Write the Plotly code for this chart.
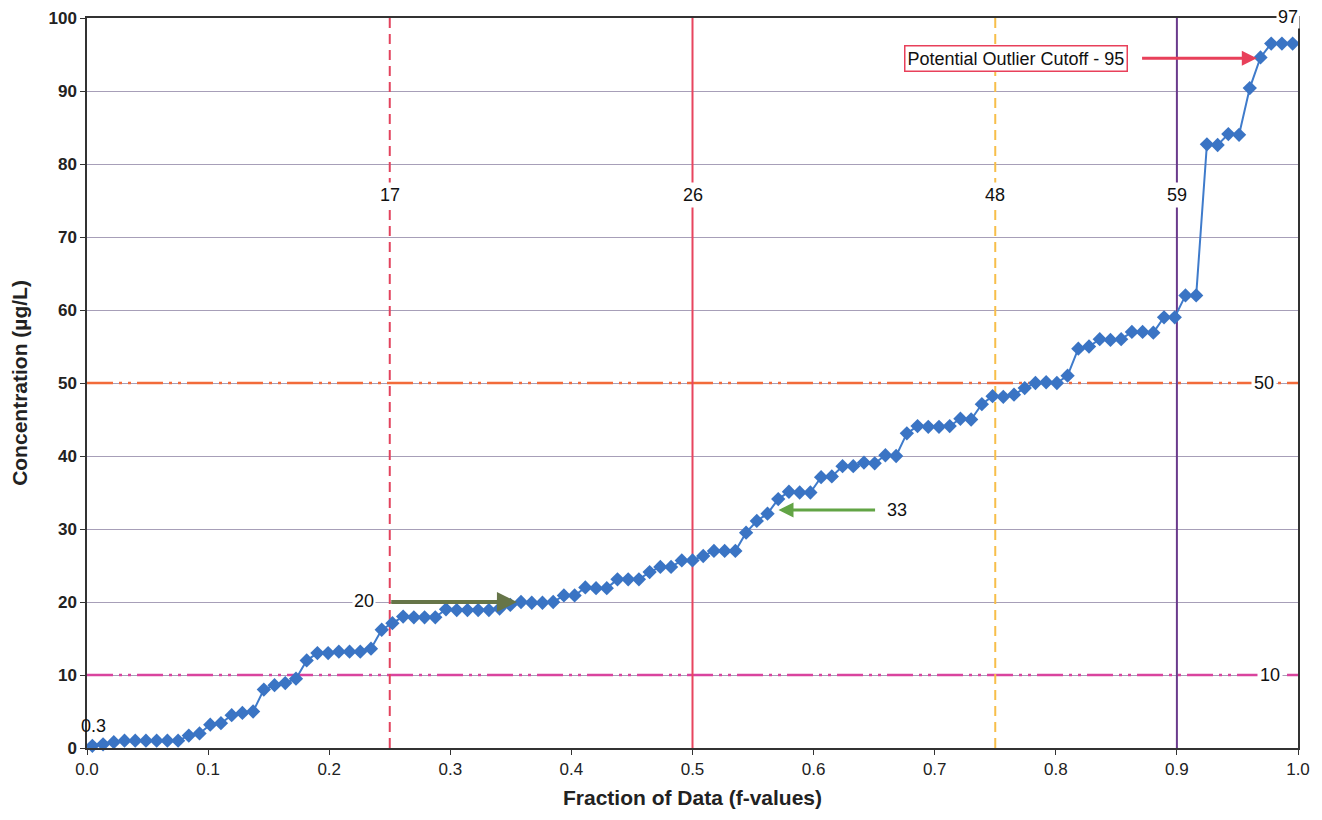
import plotly.graph_objects as go

# Sorted concentrations (µg/L)
conc = [0.3, 0.5, 0.8, 1.0, 1.0, 1.0, 1.0, 1.0, 1.0, 1.7,
        2.0, 3.2, 3.4, 4.5, 4.8, 5.0, 8.0, 8.6, 8.9, 9.5,
        12.0, 13.0, 13.0, 13.2, 13.2, 13.2, 13.6, 16.2, 17.1, 18.0,
        17.9, 17.9, 17.9, 19.0, 18.9, 18.9, 18.9, 18.9, 19.1, 19.6,
        20.0, 19.9, 19.9, 20.0, 20.9, 20.9, 22.0, 21.9, 21.9, 23.1,
        23.1, 23.1, 24.1, 24.8, 24.8, 25.7, 25.7, 26.3, 27.0, 27.0,
        27.0, 29.5, 31.1, 32.1, 34.1, 35.1, 35.0, 35.0, 37.1, 37.2,
        38.6, 38.6, 39.1, 39.0, 40.1, 40.0, 43.1, 44.1, 44.0, 44.0,
        44.1, 45.1, 45.0, 47.1, 48.2, 48.1, 48.4, 49.3, 50.0, 50.1,
        50.0, 51.0, 54.7, 55.0, 56.0, 55.9, 56.0, 57.0, 57.0, 56.9,
        59.0, 59.0, 62.0, 62.0, 82.7, 82.6, 84.1, 84.0, 90.4, 94.6,
        96.5, 96.5, 96.5]
# f-values: plotting position of each ranked value
n = len(conc)
fvals = [(i + 0.5) / n for i in range(n)]

quant_f = [0.25, 0.5, 0.75, 0.9]
quant_labels = ["17", "26", "48", "59"]
quant_colors = ["#E2435E", "#E8455F", "#F7BE4A", "#6A3A8C"]
quant_dash = ["dash", "solid", "dash", "solid"]

hlines = [50, 10]
hline_labels = ["50", "10"]
hline_colors = ["#F26B3A", "#D9449E"]

x_ticks = [0.0, 0.1, 0.2, 0.3, 0.4, 0.5, 0.6, 0.7, 0.8, 0.9, 1.0]
y_ticks = [0, 10, 20, 30, 40, 50, 60, 70, 80, 90, 100]

FONT = "Liberation Sans, Arial"
fig = go.Figure()

shapes = []
for v, c in zip(hlines, hline_colors):
    shapes.append(dict(type="line", xref="x", yref="y", x0=0, x1=1, y0=v, y1=v,
                       line=dict(color=c, width=2.5, dash="26px,6px,3px,6px,3px,6px"),
                       layer="between"))
for f, c, d in zip(quant_f, quant_colors, quant_dash):
    shapes.append(dict(type="line", xref="x", yref="y", x0=f, x1=f, y0=0, y1=100,
                       line=dict(color=c, width=2, dash="10px,6px" if d == "dash" else "solid"),
                       layer="between"))

fig.add_trace(go.Scatter(
    x=fvals, y=conc, mode="lines+markers",
    line=dict(color="#3F7BCB", width=2),
    marker=dict(symbol="diamond", size=11, color="#3A74C4"),
    showlegend=False, cliponaxis=False,
))

font_lbl = dict(family=FONT, size=18, color="#111")
ann = []
for f, t in zip(quant_f, quant_labels):
    ann.append(dict(x=f, y=75.7, xref="x", yref="y", text=t, showarrow=False,
                    font=font_lbl, bgcolor="white", borderpad=2))
ann.append(dict(x=0.972, y=50, xref="x", yref="y", text=hline_labels[0], showarrow=False,
                font=font_lbl, bgcolor="white", borderpad=2))
ann.append(dict(x=0.977, y=10, xref="x", yref="y", text=hline_labels[1], showarrow=False,
                font=font_lbl, bgcolor="white", borderpad=2))
ann.append(dict(x=0.992, y=100, yshift=1, xref="x", yref="y", text="97", showarrow=False,
                font=font_lbl, bgcolor="white", borderpad=1))
ann.append(dict(x=0.005, y=3.0, xref="x", yref="y", text="0.3", showarrow=False,
                font=font_lbl))
ann.append(dict(x=0.229, y=20.2, xref="x", yref="y", text="20", showarrow=False,
                font=font_lbl, bgcolor="white"))
ann.append(dict(x=0.669, y=32.6, xref="x", yref="y", text="33", showarrow=False,
                font=font_lbl))
# arrows
ann.append(dict(x=0.355, y=20, ax=0.25, ay=20, xref="x", yref="y", axref="x", ayref="y",
                text="", showarrow=True, arrowhead=2, arrowsize=1, arrowwidth=4,
                arrowcolor="#667548"))
ann.append(dict(x=0.571, y=32.6, ax=0.652, ay=32.6, xref="x", yref="y", axref="x", ayref="y",
                text="", showarrow=True, arrowhead=2, arrowsize=1, arrowwidth=3,
                arrowcolor="#62A445"))
ann.append(dict(x=0.966, y=94.5, ax=0.87, ay=94.5, xref="x", yref="y", axref="x", ayref="y",
                text="", showarrow=True, arrowhead=2, arrowsize=1, arrowwidth=3,
                arrowcolor="#E8405A"))
ann.append(dict(x=0.767, y=94.5, xref="x", yref="y", text="Potential Outlier Cutoff - 95",
                showarrow=False, font=dict(family=FONT, size=18, color="#111"),
                bgcolor="white", bordercolor="#E8405A", borderwidth=1.5, borderpad=2))

fig.update_layout(
    width=1322, height=820,
    margin=dict(l=79, r=32, t=10, b=80),
    paper_bgcolor="white", plot_bgcolor="white",
    shapes=shapes, annotations=ann,
    xaxis=dict(range=[0, 1], tickvals=x_ticks, tickformat=".1f", automargin=False,
               showgrid=False, zeroline=False, showline=True, linecolor="#333",
               linewidth=1.5, mirror=True, ticks="outside", ticklen=5, tickcolor="#333",
               ticklabeloverflow="allow",
               tickfont=dict(family=FONT, size=17, color="#222"),
               title=dict(text="<b>Fraction of Data (f-values)</b>", standoff=12,
                          font=dict(family=FONT, size=21, color="#222"))),
    yaxis=dict(range=[0, 100], tickvals=y_ticks, automargin=False,
               showgrid=True, gridcolor="#A79FB8", gridwidth=1, zeroline=False,
               showline=True, linecolor="#333", linewidth=1.5, mirror=True,
               ticks="outside", ticklen=5, tickcolor="#333",
               ticklabeloverflow="allow",
               tickfont=dict(family=FONT, size=17, color="#222", weight="bold"),
               title=dict(text="<b>Concentration (µg/L)</b>", standoff=18,
                          font=dict(family=FONT, size=21, color="#222"))),
)

fig.write_html("out.html")
